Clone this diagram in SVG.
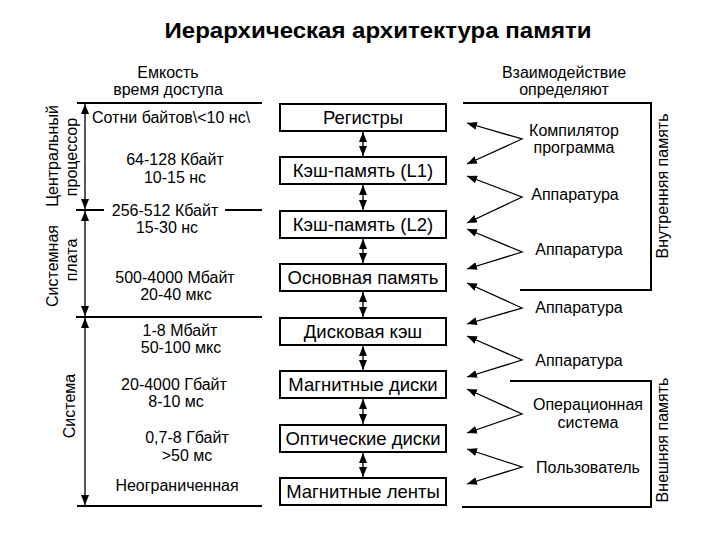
<svg xmlns="http://www.w3.org/2000/svg" width="720" height="540" viewBox="0 0 720 540">
<defs>
<marker id="ah" viewBox="0 0 10 8" refX="10" refY="4" markerWidth="10" markerHeight="8" markerUnits="userSpaceOnUse" orient="auto-start-reverse">
<path d="M0,0 L10,4 L0,8 Z" fill="#000"/>
</marker>
</defs>
<style>
text{font-family:"Liberation Sans",Arial,sans-serif;fill:#000}
.t{font-size:16px;text-anchor:middle}
.bx rect{fill:#fff;stroke:#000;stroke-width:2}
.bx text{font-size:18.5px;text-anchor:middle}
.ln{stroke:#000;stroke-width:2;fill:none}
.ar{stroke:#000;stroke-width:1.3;fill:none;marker-start:url(#ah);marker-end:url(#ah)}
.zz{stroke:#000;stroke-width:1.3;fill:none;marker-start:url(#ah);marker-end:url(#ah)}
</style>
<rect width="720" height="540" fill="#fff"/>
<text x="378" y="38" font-size="22" font-weight="bold" text-anchor="middle" textLength="427" lengthAdjust="spacingAndGlyphs">Иерархическая архитектура памяти</text>

<g id="hdr-left">
<text class="t" x="168" y="78">Емкость</text>
<text class="t" x="168" y="95">время доступа</text>
</g>
<g id="hdr-right">
<text class="t" x="564" y="78">Взаимодействие</text>
<text class="t" x="564" y="95">определяют</text>
</g>

<g id="left-frame">
<line class="ln" x1="77" y1="103" x2="262" y2="103"/>
<line class="ln" x1="76" y1="210" x2="104" y2="210"/>
<line class="ln" x1="225" y1="210" x2="262" y2="210"/>
<line class="ln" x1="76" y1="317" x2="262" y2="317"/>
<line class="ln" x1="77" y1="506" x2="262" y2="506"/>
<text font-size="16" text-anchor="middle" transform="translate(58,156) rotate(-90)">Центральный</text>
<text font-size="16" text-anchor="middle" transform="translate(77,157) rotate(-90)">процессор</text>
<text font-size="16" text-anchor="middle" transform="translate(58,266) rotate(-90)">Системная</text>
<text font-size="16" text-anchor="middle" transform="translate(77,260) rotate(-90)">плата</text>
<text font-size="16" text-anchor="middle" transform="translate(75,406) rotate(-90)">Система</text>
</g>

<g id="left-texts">
<text x="92" y="123" font-size="16">Сотни байтов\&lt;10 нс\</text>
<text class="t" x="175" y="165">64-128 Кбайт</text>
<text class="t" x="175" y="183">10-15 нс</text>
<text class="t" x="165" y="216">256-512 Кбайт</text>
<text class="t" x="167" y="233">15-30 нс</text>
<text class="t" x="175" y="283">500-4000 Мбайт</text>
<text class="t" x="176" y="300">20-40 мкс</text>
<text class="t" x="180" y="336">1-8 Мбайт</text>
<text class="t" x="181" y="353">50-100 мкс</text>
<text class="t" x="174" y="390">20-4000 Гбайт</text>
<text class="t" x="176" y="407">8-10 мс</text>
<text class="t" x="187" y="443">0,7-8 Гбайт</text>
<text class="t" x="187" y="461">&gt;50 мс</text>
<text class="t" x="177" y="491">Неограниченная</text>
</g>

<g id="right-frame">
<polyline class="ln" points="463,103 651,103 651,290 520,290"/>
<polyline class="ln" points="510,381 651,381 651,507 462,507"/>
<text font-size="16" text-anchor="middle" transform="translate(668,186) rotate(-90)">Внутренняя память</text>
<text font-size="16" text-anchor="middle" transform="translate(668,440) rotate(-90)">Внешняя память</text>
</g>

<g id="right-texts">
<text class="t" x="574" y="136">Компилятор</text>
<text class="t" x="574" y="153">программа</text>
<text class="t" x="575" y="200">Аппаратура</text>
<text class="t" x="579" y="255">Аппаратура</text>
<text class="t" x="579" y="313">Аппаратура</text>
<text class="t" x="579" y="366">Аппаратура</text>
<text class="t" x="588" y="410">Операционная</text>
<text class="t" x="588" y="428">система</text>
<text class="t" x="588" y="473">Пользователь</text>
</g>

<g id="node-registers" class="bx"><rect x="280" y="104" width="166" height="27"/><text x="363" y="124">Регистры</text></g>
<g id="node-l1" class="bx"><rect x="280" y="157" width="166" height="27"/><text x="363" y="177">Кэш-память (L1)</text></g>
<g id="node-l2" class="bx"><rect x="280" y="211" width="166" height="27"/><text x="363" y="231">Кэш-память (L2)</text></g>
<g id="node-main" class="bx"><rect x="280" y="264" width="166" height="27"/><text x="363" y="284">Основная память</text></g>
<g id="node-diskcache" class="bx"><rect x="280" y="318" width="166" height="27"/><text x="363" y="338">Дисковая кэш</text></g>
<g id="node-magdisk" class="bx"><rect x="280" y="371" width="166" height="27"/><text x="363" y="391">Магнитные диски</text></g>
<g id="node-optdisk" class="bx"><rect x="280" y="425" width="166" height="27"/><text x="363" y="445">Оптические диски</text></g>
<g id="node-tape" class="bx"><rect x="280" y="478" width="166" height="27"/><text x="363" y="498">Магнитные ленты</text></g>

<g id="connectors">
<line class="ar" x1="85" y1="104" x2="85" y2="209"/>
<line class="ar" x1="85" y1="211" x2="85" y2="316"/>
<line class="ar" x1="85" y1="318" x2="85" y2="505"/>
<line class="ar" x1="363" y1="132" x2="363" y2="156"/>
<line class="ar" x1="363" y1="185" x2="363" y2="210"/>
<line class="ar" x1="363" y1="239" x2="363" y2="263"/>
<line class="ar" x1="363" y1="292" x2="363" y2="317"/>
<line class="ar" x1="363" y1="346" x2="363" y2="370"/>
<line class="ar" x1="363" y1="399" x2="363" y2="424"/>
<line class="ar" x1="363" y1="453" x2="363" y2="477"/>
<polyline class="zz" points="467,123 522,139 467,164"/>
<polyline class="zz" points="467,176 522,197 467,223"/>
<polyline class="zz" points="467,229 522,252 467,269"/>
<polyline class="zz" points="467,283 522,308 467,324"/>
<polyline class="zz" points="467,336 522,360 467,377"/>
<polyline class="zz" points="467,389 522,414 467,433"/>
<polyline class="zz" points="467,449 522,467 467,484"/>
</g>
</svg>
